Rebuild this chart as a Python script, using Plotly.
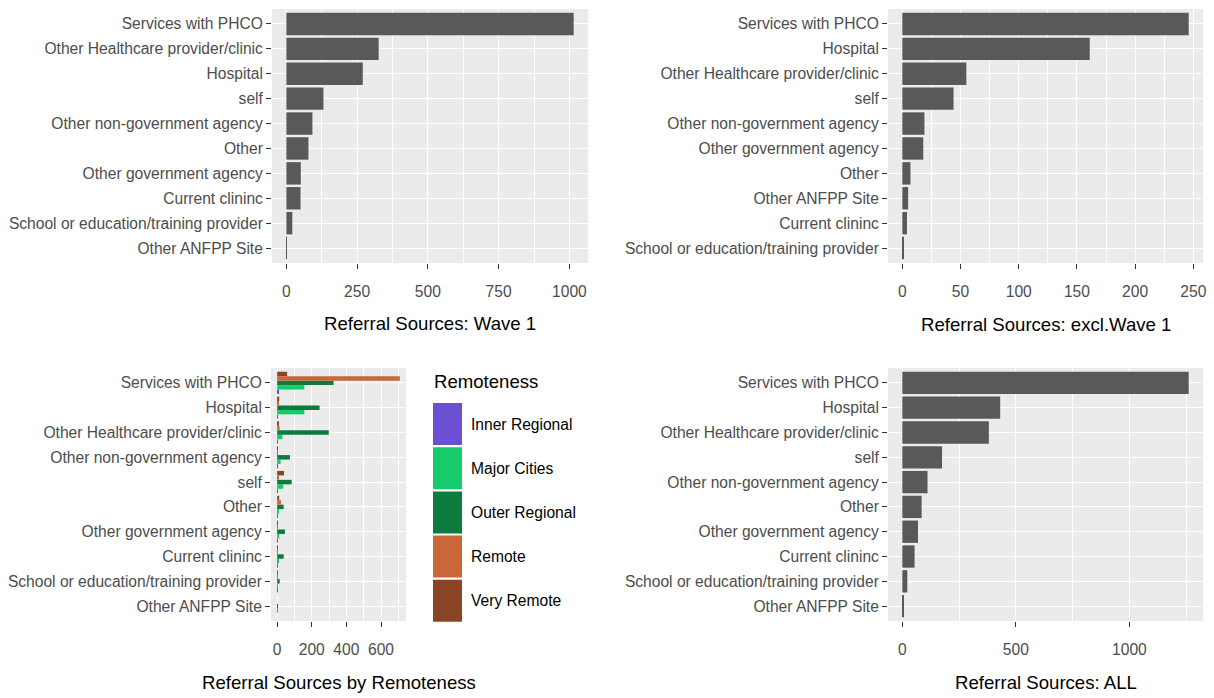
import plotly.graph_objects as go

W, H = 1214, 698
FONT = "Liberation Sans, Arial, sans-serif"
TICK_SIZE = 15.6
TITLE_SIZE = 18.6
BAR = "#595959"
PANEL_BG = "#EBEBEB"
TICK_GREY = "#4D4D4D"

# Referral counts, wave 1 (top to bottom)
wave1_sources = ["Services with PHCO", "Other Healthcare provider/clinic", "Hospital", "self",
                 "Other non-government agency", "Other", "Other government agency",
                 "Current clininc", "School or education/training provider", "Other ANFPP Site"]
wave1_counts = [1015, 326, 270, 131, 92, 78, 51, 50, 21, 1]

# Referral counts, excluding wave 1
excl_sources = ["Services with PHCO", "Hospital", "Other Healthcare provider/clinic", "self",
                "Other non-government agency", "Other government agency", "Other",
                "Other ANFPP Site", "Current clininc", "School or education/training provider"]
excl_counts = [246, 161, 55, 44, 19, 18, 7, 5, 4, 1]

# Referral counts, all waves
all_sources = ["Services with PHCO", "Hospital", "Other Healthcare provider/clinic", "self",
               "Other non-government agency", "Other", "Other government agency",
               "Current clininc", "School or education/training provider", "Other ANFPP Site"]
all_counts = [1261, 431, 381, 175, 111, 85, 69, 54, 22, 6]

# Referral counts split by remoteness
remote_sources = ["Services with PHCO", "Hospital", "Other Healthcare provider/clinic",
                  "Other non-government agency", "self", "Other", "Other government agency",
                  "Current clininc", "School or education/training provider", "Other ANFPP Site"]
remoteness_levels = ["Inner Regional", "Major Cities", "Outer Regional", "Remote", "Very Remote"]
remoteness_colors = ["#6B50D6", "#17CB6B", "#0B7C3E", "#C9663A", "#8B4526"]
inner_regional = [11, 2, 5, 2, 3, 2, 2, 2, 1, 0]
major_cities = [157, 157, 30, 20, 35, 10, 12, 8, 4, 4]
outer_regional = [326, 245, 298, 74, 84, 38, 45, 38, 15, 2]
remote = [709, 10, 14, 3, 8, 22, 5, 3, 1, 0]
very_remote = [58, 12, 8, 4, 40, 12, 4, 2, 1, 0]
remoteness_counts = [inner_regional, major_cities, outer_regional, remote, very_remote]


def xdom(left, right):
    return [left / W, right / W]


def ydom(top, bottom):
    return [1 - bottom / H, 1 - top / H]


def gg_range(values):
    vmax = max(values)
    return [-0.05 * vmax, 1.05 * vmax]


fig = go.Figure()

panels = [
    ("x", "y", wave1_sources, wave1_counts),
    ("x2", "y2", excl_sources, excl_counts),
    ("x4", "y4", all_sources, all_counts),
]
for xa, ya, cats, vals in panels:
    fig.add_trace(go.Bar(x=vals, y=cats, orientation="h", marker=dict(color=BAR, line_width=0),
                         xaxis=xa, yaxis=ya, showlegend=False))

for level, color, vals in zip(remoteness_levels, remoteness_colors, remoteness_counts):
    fig.add_trace(go.Bar(x=vals, y=remote_sources, orientation="h", name=level,
                         marker=dict(color=color, line_width=0),
                         xaxis="x3", yaxis="y3", showlegend=False))

tickfont = dict(family=FONT, size=TICK_SIZE, color=TICK_GREY)


def xaxis_cfg(domain, anchor, rng, ticks, minor_step):
    return dict(domain=domain, anchor=anchor, range=rng, tickvals=ticks,
                showgrid=True, gridcolor="white", gridwidth=1.3, zeroline=False,
                showline=False, ticks="outside", ticklen=5, tickwidth=1.2, tickcolor="#333333",
                tickfont=tickfont, ticklabelstandoff=9, tickangle=0, automargin=False,
                minor=dict(dtick=minor_step, tick0=0, showgrid=True, gridcolor="white",
                           gridwidth=0.6, ticks=""),
                fixedrange=True)


def yaxis_cfg(domain, anchor, cats):
    return dict(domain=domain, anchor=anchor, type="category",
                categoryorder="array", categoryarray=list(reversed(cats)),
                range=[-0.6, len(cats) - 0.4],
                showgrid=True, gridcolor="white", gridwidth=1.3, zeroline=False,
                showline=False, ticks="outside", ticklen=5, tickwidth=1.2, tickcolor="#333333",
                tickfont=tickfont, automargin=False, fixedrange=True)


top_y = ydom(9, 263)
bot_y = ydom(368, 621)
left_x = xdom(272, 588)
right_x = xdom(888, 1203)
mid_x = xdom(271, 406)

remote_max = [max(v) for v in zip(*remoteness_counts)]

fig.update_layout(
    width=W, height=H, margin=dict(l=0, r=0, t=0, b=0),
    paper_bgcolor="white", plot_bgcolor=PANEL_BG,
    barmode="group", bargap=0.1, bargroupgap=0,
    showlegend=False,
    font=dict(family=FONT),
    xaxis=xaxis_cfg(left_x, "y", gg_range(wave1_counts), [0, 250, 500, 750, 1000], 125),
    yaxis=yaxis_cfg(top_y, "x", wave1_sources),
    xaxis2=xaxis_cfg(right_x, "y2", gg_range(excl_counts), [0, 50, 100, 150, 200, 250], 25),
    yaxis2=yaxis_cfg(top_y, "x2", excl_sources),
    xaxis3=xaxis_cfg(mid_x, "y3", gg_range(remote_max), [0, 200, 400, 600], 100),
    yaxis3=yaxis_cfg(bot_y, "x3", remote_sources),
    xaxis4=xaxis_cfg(right_x, "y4", gg_range(all_counts), [0, 500, 1000], 250),
    yaxis4=yaxis_cfg(bot_y, "x4", all_sources),
)

# Axis titles under each panel
titles = [
    ("Referral Sources: Wave 1", left_x, 323),
    ("Referral Sources: excl.Wave 1", right_x, 324),
    ("Referral Sources by Remoteness", mid_x, 682),
    ("Referral Sources: ALL", right_x, 682),
]
for text, dom, yc in titles:
    fig.add_annotation(text=text, x=(dom[0] + dom[1]) / 2, y=1 - yc / H,
                       xref="paper", yref="paper", showarrow=False,
                       xanchor="center", yanchor="middle",
                       font=dict(family=FONT, size=TITLE_SIZE, color="black"))

# Remoteness legend
fig.add_annotation(text="Remoteness", x=432 / W, y=1 - 381 / H, xref="paper", yref="paper",
                   showarrow=False, xanchor="left", yanchor="middle",
                   font=dict(family=FONT, size=TITLE_SIZE, color="black"))
key_top, key_h, key_gap = 403, 42, 2.2
for i, (level, color) in enumerate(zip(remoteness_levels, remoteness_colors)):
    t = key_top + i * (key_h + key_gap)
    b = t + key_h
    fig.add_shape(type="rect", xref="paper", yref="paper",
                  x0=433 / W, x1=462 / W, y0=1 - b / H, y1=1 - t / H,
                  fillcolor=color, line_width=0)
    fig.add_annotation(text=level, x=469 / W, y=1 - (t + b) / 2 / H, xref="paper", yref="paper",
                       showarrow=False, xanchor="left", yanchor="middle",
                       font=dict(family=FONT, size=TICK_SIZE, color="black"))

fig.write_html("out.html")
